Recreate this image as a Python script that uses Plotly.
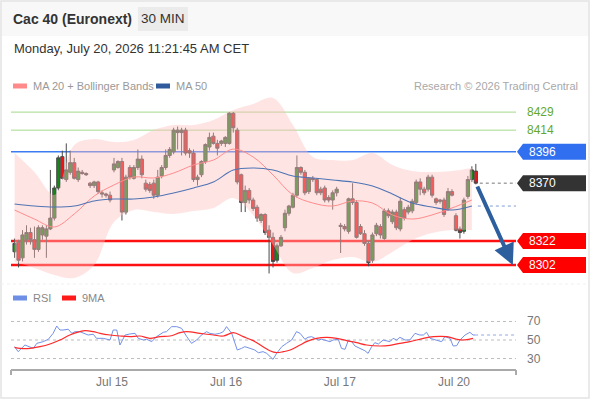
import plotly.graph_objects as go

# ---------------- data ----------------
open_ = [8313, 8321, 8308, 8323, 8329, 8323, 8315, 8327, 8326, 8332,
         8341, 8366, 8392, 8373, 8379, 8387, 8373, 8379, 8378, 8370,
         8368, 8371, 8362, 8361, 8360, 8381, 8383, 8388, 8346, 8383,
         8374, 8383, 8390, 8370, 8369, 8370, 8360, 8376, 8383, 8393,
         8396, 8412, 8412, 8414, 8397, 8395, 8373, 8377, 8388, 8400,
         8409, 8403, 8403, 8403, 8403, 8428, 8414, 8377, 8354, 8364,
         8356, 8350, 8339, 8344, 8331, 8325, 8306, 8318, 8333, 8345,
         8350, 8360, 8383, 8379, 8363, 8374, 8373, 8365, 8366, 8358,
         8356, 8362, 8335, 8334, 8330, 8357, 8354, 8334, 8328, 8320,
         8306, 8328, 8334, 8324, 8347, 8338, 8346, 8332, 8348, 8346,
         8347, 8354, 8371, 8365, 8365, 8375, 8357, 8356, 8356, 8349,
         8363, 8343, 8332, 8330, 8359, 8373, 8380]
high = [8324, 8323, 8331, 8335, 8333, 8334, 8335, 8335, 8335, 8381,
        8368, 8393, 8397, 8403, 8397, 8391, 8383, 8381, 8379, 8371,
        8372, 8372, 8364, 8362, 8363, 8391, 8389, 8391, 8377, 8385,
        8385, 8398, 8393, 8373, 8371, 8373, 8381, 8385, 8398, 8400,
        8416, 8417, 8416, 8416, 8399, 8398, 8377, 8389, 8403, 8412,
        8412, 8406, 8406, 8409, 8429, 8429, 8416, 8378, 8368, 8366,
        8358, 8352, 8345, 8345, 8335, 8329, 8320, 8327, 8348, 8352,
        8362, 8393, 8384, 8381, 8375, 8376, 8374, 8367, 8368, 8360,
        8364, 8367, 8337, 8336, 8358, 8370, 8356, 8336, 8331, 8322,
        8329, 8337, 8336, 8349, 8349, 8348, 8348, 8358, 8350, 8352,
        8357, 8373, 8374, 8367, 8377, 8377, 8358, 8357, 8358, 8366,
        8365, 8345, 8334, 8358, 8376, 8384, 8386]
low = [8308, 8300, 8305, 8319, 8319, 8308, 8313, 8323, 8308, 8331,
       8339, 8364, 8373, 8371, 8377, 8373, 8371, 8377, 8376, 8366,
       8366, 8361, 8358, 8358, 8354, 8379, 8382, 8339, 8344, 8373,
       8373, 8381, 8374, 8363, 8362, 8357, 8358, 8374, 8381, 8391,
       8394, 8398, 8393, 8393, 8391, 8371, 8368, 8375, 8386, 8397,
       8402, 8393, 8401, 8400, 8402, 8412, 8369, 8346, 8346, 8353,
       8347, 8338, 8337, 8327, 8295, 8300, 8304, 8317, 8330, 8343,
       8349, 8358, 8377, 8360, 8361, 8371, 8360, 8360, 8354, 8354,
       8348, 8359, 8312, 8330, 8328, 8352, 8324, 8327, 8318, 8301,
       8304, 8326, 8324, 8323, 8341, 8336, 8331, 8330, 8339, 8344,
       8345, 8352, 8360, 8360, 8363, 8358, 8352, 8353, 8342, 8347,
       8359, 8330, 8324, 8328, 8357, 8371, 8369]
close = [8320, 8306, 8327, 8329, 8323, 8315, 8333, 8333, 8332, 8341,
         8366, 8391, 8374, 8381, 8387, 8374, 8380, 8378, 8377, 8368,
         8371, 8363, 8361, 8360, 8356, 8386, 8388, 8346, 8375, 8375,
         8383, 8390, 8377, 8365, 8364, 8360, 8375, 8383, 8393, 8398,
         8414, 8414, 8414, 8395, 8395, 8373, 8375, 8388, 8402, 8408,
         8403, 8399, 8405, 8408, 8428, 8416, 8371, 8354, 8364, 8356,
         8349, 8341, 8344, 8329, 8325, 8305, 8318, 8325, 8345, 8351,
         8360, 8383, 8379, 8362, 8374, 8373, 8362, 8362, 8356, 8356,
         8362, 8365, 8334, 8332, 8357, 8354, 8325, 8328, 8320, 8304,
         8327, 8335, 8327, 8347, 8343, 8346, 8333, 8355, 8341, 8350,
         8355, 8371, 8365, 8362, 8375, 8360, 8354, 8355, 8344, 8363,
         8360, 8331, 8329, 8356, 8373, 8381, 8370]
bar_idx = list(range(len(close)))

# indicator samples (bar index -> value)
band_idx = [0, 5, 10, 15, 20, 25, 30, 35, 40, 45, 50, 55, 60, 65, 70, 75,
            80, 85, 90, 95, 100, 105, 110, 115]
bb_upper = [8395.0, 8379.2, 8360.2, 8401.7, 8406.6, 8404.1, 8405.8, 8414.1,
            8418.3, 8418.3, 8422.4, 8430.7, 8435.7, 8440.7, 8418.3, 8391.7,
            8389.2, 8389.2, 8395.0, 8385.1, 8380.1, 8379.2, 8380.1, 8382.6]
bb_lower = [8304.5, 8299.6, 8293.8, 8291.3, 8302.1, 8337.7, 8347.7, 8346.0,
            8344.4, 8346.9, 8349.4, 8357.7, 8343.6, 8318.7, 8295.4, 8299.6,
            8306.2, 8308.7, 8304.5, 8312.8, 8322.8, 8328.6, 8331.1, 8331.1]
ma20 = [8347.7, 8340.2, 8333.6, 8344.4, 8359.3, 8368.5, 8375.1, 8374.3,
        8378.4, 8385.1, 8389.2, 8398.3, 8391.7, 8376.8, 8360.2, 8353.5,
        8351.0, 8355.2, 8353.5, 8343.6, 8340.2, 8343.6, 8349.4, 8356.0]
ma50 = [8352.7, 8351.0, 8350.2, 8351.0, 8355.2, 8356.8, 8356.8, 8358.5,
        8361.8, 8366.0, 8370.9, 8380.9, 8382.6, 8380.9, 8375.9, 8374.3,
        8372.6, 8370.9, 8367.6, 8361.0, 8353.5, 8350.2, 8347.7, 8351.0]

rsi_idx = [0, 0.9, 2.6, 3.9, 4.7, 5.6, 6.4, 7.2, 8.5, 9.7, 10.6, 11.4, 12.2, 13.5,
           14.4, 15.2, 16.4, 17.7, 18.5, 19.8, 20.6, 22.3, 23.2, 24.0, 24.8, 25.7,
           26.5, 27.8, 29.0, 30.3, 31.1, 32.4, 33.2, 34.5, 35.7, 37.4, 38.2, 39.5,
           40.8, 42.0, 43.3, 44.5, 45.8, 47.0, 48.3, 49.1, 50.4, 51.6, 52.5, 53.3,
           54.6, 56.0, 57.1, 57.9, 59.2, 60.4, 61.3, 62.5, 63.4, 64.2, 65.0, 65.9,
           67.2, 68.4, 69.7, 70.9, 71.8, 73.0, 73.8, 74.7, 75.5, 76.4, 77.2, 78.5,
           79.3, 80.1, 81.4, 82.2, 83.1, 83.9, 84.8, 85.6, 86.8, 88.1, 88.9, 89.8,
           90.6, 91.5, 92.7, 93.6, 94.4, 95.2, 96.1, 96.9, 98.2, 99.4, 100.7, 101.9,
           102.8, 103.6, 104.5, 105.3, 106.5, 107.4, 108.2, 109.5, 110.3, 111.2,
           112.0, 113.3, 114.5, 115.3, 115.8]
rsi_val = [42.8, 37.4, 44.6, 42.8, 41.0, 46.4, 47.1, 48.2, 50.8, 57.2, 65.1, 60.8,
           60.8, 61.6, 57.2, 59.0, 59.0, 57.2, 55.4, 56.2, 51.8, 51.8, 50.8, 50.0,
           60.8, 60.8, 44.6, 55.4, 56.5, 57.2, 51.8, 50.0, 50.8, 48.2, 53.6, 58.3,
           59.0, 64.4, 64.4, 62.6, 53.6, 46.4, 50.0, 55.4, 59.0, 57.2, 56.2, 57.2,
           59.0, 64.4, 57.2, 39.2, 41.0, 42.8, 41.0, 39.2, 36.3, 37.4, 35.6, 32.7,
           29.1, 35.6, 42.8, 46.4, 50.0, 59.0, 57.2, 50.8, 52.9, 53.6, 51.8, 50.0,
           50.8, 48.9, 48.2, 50.0, 50.8, 41.0, 39.9, 49.3, 48.2, 43.5, 41.0, 38.4,
           35.6, 42.8, 47.1, 45.7, 50.0, 48.9, 48.2, 51.8, 50.0, 52.9, 50.0, 50.0,
           57.2, 55.4, 55.4, 58.3, 51.8, 50.8, 49.3, 48.2, 53.6, 51.8, 43.5, 43.9,
           50.0, 55.4, 58.3, 55.4, 55.4]
ma9_idx = [0, 1.4, 3.9, 6.4, 8.9, 11.4, 13.9, 16.4, 17.7, 19.8, 21.5, 24.0, 26.5,
           29.0, 31.5, 34.0, 36.6, 39.1, 41.6, 43.3, 46.6, 50.0, 52.5, 55.0, 57.5,
           60.0, 62.5, 64.2, 65.9, 67.6, 69.3, 71.8, 73.4, 75.9, 78.5, 81.0, 83.5,
           86.0, 88.5, 91.9, 94.4, 96.9, 99.4, 102.8, 105.3, 108.7, 111.2, 112.8, 115.3]
ma9_val = [42.1, 41.0, 41.0, 42.8, 45.7, 50.0, 55.4, 59.0, 60.1, 59.0, 57.2, 55.4,
           54.3, 53.6, 54.3, 51.8, 53.6, 54.3, 57.9, 59.0, 57.2, 55.4, 54.3, 57.9,
           53.6, 49.3, 42.8, 38.4, 36.3, 37.4, 39.2, 44.6, 48.2, 51.8, 52.9, 51.8,
           49.3, 47.1, 44.6, 43.5, 44.2, 46.4, 48.2, 51.8, 53.6, 53.6, 50.8, 50.0, 51.8]

day_tick_idx = [24.5, 53.2, 81.8, 110.5]
day_tick_text = ["Jul 15", "Jul 16", "Jul 17", "Jul 20"]

resistance_levels = [8429, 8414]
pivot_level = 8396
last_price = 8370
support_levels = [8322, 8302]
target_level = 8302

# ---------------- layout helpers ----------------
W, H = 590, 400
FONT = "Liberation Sans, Arial, sans-serif"


def px(x):
    return x / W


def py(y):
    return 1 - y / H


X_L, X_R = 11, 516
XRANGE = [-0.9, 126.1]
PRICE_RANGE = [8287.1, 8443.2]
PRICE_DOM = [py(283), py(95)]
RSI_RANGE = [17.6, 82.4]
RSI_DOM = [py(370), py(310)]
unit_px = (283 - 95) / (PRICE_RANGE[1] - PRICE_RANGE[0])

fig = go.Figure()

# Bollinger band
fig.add_trace(go.Scatter(x=band_idx, y=bb_lower, mode="lines", line=dict(width=0, shape="spline"),
                         hoverinfo="skip", showlegend=False))
fig.add_trace(go.Scatter(x=band_idx, y=bb_upper, mode="lines", line=dict(width=0, shape="spline"),
                         fill="tonexty", fillcolor="rgba(255,190,190,0.42)", hoverinfo="skip",
                         showlegend=False))
fig.add_trace(go.Scatter(x=band_idx, y=ma20, mode="lines",
                         line=dict(color="#ff8c8c", width=1, shape="spline"), showlegend=False))
fig.add_trace(go.Scatter(x=band_idx, y=ma50, mode="lines",
                         line=dict(color="#4f74b4", width=1.1, shape="spline"), showlegend=False))

fig.add_trace(go.Candlestick(
    x=bar_idx, open=open_, high=high, low=low, close=close,
    increasing=dict(fillcolor="#1a861a", line=dict(color="#4a4a4a", width=1)),
    decreasing=dict(fillcolor="#ee1515", line=dict(color="#4a4a4a", width=1)),
    whiskerwidth=0, showlegend=False))

# RSI panel
fig.add_trace(go.Scatter(x=rsi_idx, y=rsi_val, mode="lines", xaxis="x2", yaxis="y2",
                         line=dict(color="#7391e6", width=1), showlegend=False))
fig.add_trace(go.Scatter(x=ma9_idx, y=ma9_val, mode="lines", xaxis="x2", yaxis="y2",
                         line=dict(color="#ff2a2a", width=1.2, shape="spline"), showlegend=False))

shapes = []
annotations = []

# frame / header
shapes.append(dict(type="rect", xref="paper", yref="paper", x0=0, x1=1, y0=py(36), y1=1,
                   fillcolor="#f8f8f8", line=dict(width=0), layer="below"))
shapes.append(dict(type="rect", xref="paper", yref="paper", x0=px(1), x1=px(589), y0=py(398), y1=py(1),
                   fillcolor="rgba(0,0,0,0)", line=dict(color="#e4e4e4", width=1.5)))
shapes.append(dict(type="line", xref="paper", yref="paper", x0=px(1), x1=px(589), y0=py(284), y1=py(284),
                   line=dict(color="#f0f0f0", width=1, dash="dot")))
shapes.append(dict(type="rect", xref="paper", yref="paper", x0=px(138), x1=px(188), y0=py(31), y1=py(7),
                   fillcolor="#ebebeb", line=dict(width=0)))

annotations.append(dict(text="<b>Cac 40 (Euronext)</b>", x=px(11), y=py(19), xref="paper", yref="paper",
                        xanchor="left", yanchor="middle", showarrow=False,
                        font=dict(size=14, color="#333333", family=FONT)))
annotations.append(dict(text="30 MIN", x=px(163), y=py(19), xref="paper", yref="paper",
                        xanchor="center", yanchor="middle", showarrow=False,
                        font=dict(size=13.5, color="#333333", family=FONT)))
annotations.append(dict(text="Monday, July 20, 2026 11:21:45 AM CET", x=px(12), y=py(48),
                        xref="paper", yref="paper", xanchor="left", yanchor="middle", showarrow=False,
                        font=dict(size=13, color="#333333", family=FONT)))

# legends
def swatch(x0, y, color):
    shapes.append(dict(type="rect", xref="paper", yref="paper", x0=px(x0), x1=px(x0 + 14),
                       y0=py(y + 2.5), y1=py(y - 2.5), fillcolor=color, line=dict(width=0)))


def legtext(x, y, t, color="#999999"):
    annotations.append(dict(text=t, x=px(x), y=py(y), xref="paper", yref="paper", xanchor="left",
                            yanchor="middle", showarrow=False, font=dict(size=11, color=color, family=FONT)))


swatch(13, 86, "#ff8a8a")
legtext(31, 86, "MA 20 + Bollinger Bands")
swatch(156, 86, "#2f5b9c")
legtext(174, 86, "MA 50")
annotations.append(dict(text="Research © 2026 Trading Central", x=px(580), y=py(86), xref="paper",
                        yref="paper", xanchor="right", yanchor="middle", showarrow=False,
                        font=dict(size=11, color="#a8a8a8", family=FONT)))
swatch(13, 298, "#6f8fe6")
legtext(31, 298, "RSI", "#888888")
swatch(62, 298, "#ff1a1a")
legtext(80, 298, "9MA", "#888888")

# level lines
for lv in resistance_levels:
    shapes.append(dict(type="line", xref="paper", yref="y", x0=px(X_L), x1=px(X_R), y0=lv, y1=lv,
                       line=dict(color="#a5d98a", width=1), layer="below"))
    annotations.append(dict(text=str(lv), x=px(525), y=lv, xref="paper", yref="y", xanchor="left",
                            yanchor="middle", showarrow=False,
                            font=dict(size=12, color="#63a82e", family=FONT)))

shapes.append(dict(type="line", xref="paper", yref="y", x0=px(X_L), x1=px(X_R), y0=pivot_level,
                   y1=pivot_level, line=dict(color="#3d7cf0", width=1.5), layer="below"))
for lv in support_levels:
    shapes.append(dict(type="line", xref="paper", yref="y", x0=px(X_L), x1=px(X_R), y0=lv, y1=lv,
                       line=dict(color="#ff1010", width=2.5), layer="below"))

# dotted extensions
last_i = bar_idx[-1]
shapes.append(dict(type="line", xref="x", yref="y", x0=last_i + 1, x1=XRANGE[1], y0=last_price,
                   y1=last_price, line=dict(color="#777777", width=1, dash="dot")))
shapes.append(dict(type="line", xref="x", yref="y", x0=band_idx[-1] + 1.5, x1=XRANGE[1], y0=ma50[-1],
                   y1=ma50[-1], line=dict(color="#7f9cd6", width=1, dash="dot")))
shapes.append(dict(type="line", xref="x2", yref="y2", x0=rsi_idx[-1], x1=XRANGE[1], y0=rsi_val[-1],
                   y1=rsi_val[-1], line=dict(color="#93a9e8", width=1, dash="dot")))

# label boxes
half = 8 / unit_px
for lv, col in [(pivot_level, "#2f6ff0"), (last_price, "#333333"),
                (support_levels[0], "#ff0000"), (support_levels[1], "#ff0000")]:
    path = (f"M {px(517)},{lv} L {px(523)},{lv + half} L {px(586)},{lv + half} "
            f"L {px(586)},{lv - half} L {px(523)},{lv - half} Z")
    shapes.append(dict(type="path", xref="paper", yref="y", path=path, fillcolor=col,
                       line=dict(width=0)))
    annotations.append(dict(text=str(lv), x=px(527), y=lv, xref="paper", yref="y", xanchor="left",
                            yanchor="middle", showarrow=False,
                            font=dict(size=12, color="#ffffff", family=FONT)))

# RSI grid
for lv in [70, 50, 30]:
    shapes.append(dict(type="line", xref="paper", yref="y2", x0=px(X_L), x1=px(X_R), y0=lv, y1=lv,
                       line=dict(color="#bdbdbd", width=1, dash="dot"), layer="below"))
    annotations.append(dict(text=str(lv), x=px(525), y=lv, xref="paper", yref="y2", xanchor="left",
                            yanchor="middle", showarrow=False,
                            font=dict(size=12, color="#777777", family=FONT)))

# x axis line with end ticks
shapes.append(dict(type="line", xref="paper", yref="paper", x0=px(X_L), x1=px(X_R), y0=py(370),
                   y1=py(370), line=dict(color="#aaaaaa", width=2)))
for xx in (X_L, X_R):
    shapes.append(dict(type="line", xref="paper", yref="paper", x0=px(xx), x1=px(xx), y0=py(370),
                       y1=py(375), line=dict(color="#aaaaaa", width=2)))

# forecast arrow
annotations.append(dict(x=125.3, y=target_level, xref="x", yref="y", ax=last_i, ay=last_price,
                        axref="x", ayref="y", showarrow=True, arrowhead=2, arrowsize=1.05,
                        arrowwidth=4, arrowcolor="#2d5f9f", text="", standoff=0, startstandoff=2))

fig.update_layout(
    width=W, height=H, margin=dict(l=0, r=0, t=0, b=0),
    paper_bgcolor="#ffffff", plot_bgcolor="rgba(0,0,0,0)",
    showlegend=False, boxgap=0.15, boxgroupgap=0.05,
    xaxis=dict(domain=[px(X_L), px(X_R)], range=XRANGE, anchor="y", showgrid=False, zeroline=False,
               showticklabels=False, rangeslider=dict(visible=False), fixedrange=True),
    yaxis=dict(domain=PRICE_DOM, range=PRICE_RANGE, showgrid=False, zeroline=False,
               showticklabels=False, fixedrange=True),
    xaxis2=dict(domain=[px(X_L), px(X_R)], range=XRANGE, anchor="y2", showgrid=False, zeroline=False,
                tickmode="array", tickvals=day_tick_idx, ticktext=day_tick_text, ticks="",
                ticklabelstandoff=3,
                tickfont=dict(size=12, color="#777777", family=FONT), fixedrange=True),
    yaxis2=dict(domain=RSI_DOM, range=RSI_RANGE, showgrid=False, zeroline=False,
                showticklabels=False, fixedrange=True),
    shapes=shapes, annotations=annotations,
    font=dict(family=FONT),
)

fig.write_html("out.html", config={"displayModeBar": False})

# remove the default page margin so the 590x400 figure fills the window
with open("out.html", "r", encoding="utf-8") as f:
    html = f.read()
html = html.replace("<head>", "<head><style>html,body{margin:0;padding:0;overflow:hidden;}</style>", 1)
with open("out.html", "w", encoding="utf-8") as f:
    f.write(html)
